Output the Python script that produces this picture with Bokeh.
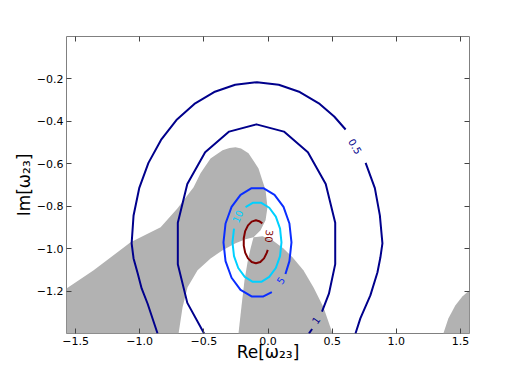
from bokeh.plotting import figure
from bokeh.models import Range1d, LinearAxis, FixedTicker
from bokeh.core.properties import value
from bokeh.embed import file_html
from bokeh.resources import INLINE

X_MIN, X_MAX = -1.5708, 1.5708
Y_MIN, Y_MAX = -1.398, -0.002

x_ticks = [-1.5, -1.0, -0.5, 0.0, 0.5, 1.0, 1.5]
y_ticks = [-1.2, -1.0, -0.8, -0.6, -0.4, -0.2]

# gray (shaded) regions, traced boundaries
region_a_x = [-1.5708, -1.5708, -0.697, -0.666, -0.627, -0.549, -0.448, -0.354, -0.253, -0.175, -0.113,
              -0.058, -0.019, -0.004, -0.019, -0.074, -0.152, -0.210, -0.253, -0.300, -0.354, -0.448,
              -0.526, -0.580, -0.705, -0.837, -1.071, -1.359]
region_a_y = [-1.186, -1.398, -1.398, -1.275, -1.181, -1.101, -1.045, -1.007, -0.974, -0.955, -0.946,
              -0.913, -0.866, -0.805, -0.725, -0.622, -0.551, -0.528, -0.523, -0.526, -0.537, -0.575,
              -0.645, -0.711, -0.809, -0.899, -0.969, -1.101]
region_b_x = [-0.230, -0.206, -0.183, -0.160, -0.136, -0.113, -0.043, 0.035, 0.121, 0.191, 0.276,
              0.354, 0.432, 0.487, 0.502]
region_b_y = [-1.398, -1.266, -1.148, -1.064, -0.998, -0.946, -0.941, -0.960, -0.998, -1.040, -1.101,
              -1.181, -1.275, -1.370, -1.398]
region_c_x = [1.367, 1.406, 1.460, 1.515, 1.5708, 1.5708]
region_c_y = [-1.398, -1.327, -1.266, -1.224, -1.195, -1.398]

# contour level 0.5 (two pieces, gap for label)
c05a_x = [-0.861, -0.939, -0.985, -1.016, -1.048, -1.063, -1.048, -1.004, -0.932, -0.834, -0.714,
          -0.574, -0.420, -0.256, -0.086, 0.084, 0.248, 0.403, 0.516, 0.605]
c05a_y = [-1.398, -1.257, -1.186, -1.115, -1.045, -0.974, -0.843, -0.715, -0.596, -0.488, -0.395,
          -0.319, -0.263, -0.229, -0.217, -0.229, -0.263, -0.319, -0.378, -0.439]
c05b_x = [0.761, 0.833, 0.872, 0.892, 0.876, 0.853, 0.798, 0.720, 0.682]
c05b_y = [-0.596, -0.715, -0.843, -0.974, -1.041, -1.111, -1.219, -1.327, -1.398]

# contour level 1
c1a_x = [-0.498, -0.629, -0.703, -0.703, -0.629, -0.490, -0.303, -0.090, 0.124, 0.311, 0.450,
         0.524, 0.524, 0.475, 0.421]
c1a_y = [-1.398, -1.254, -1.072, -0.877, -0.695, -0.546, -0.449, -0.415, -0.449, -0.546, -0.695,
         -0.877, -1.072, -1.211, -1.295]
c1b_x = [0.344, 0.319]
c1b_y = [-1.377, -1.398]

# contour level 5
c5_x = [0.136, 0.167, 0.183, 0.167, 0.121, 0.051, -0.036, -0.128, -0.214, -0.284, -0.331, -0.347,
        -0.331, -0.284, -0.214, -0.128, -0.036, 0.030]
c5_y = [-1.118, -1.058, -0.970, -0.881, -0.803, -0.746, -0.715, -0.715, -0.746, -0.803, -0.881,
        -0.970, -1.058, -1.136, -1.193, -1.224, -1.224, -1.204]

# contour level 10
c10_x = [-0.175, -0.119, -0.052, 0.010, 0.061, 0.094, 0.105, 0.094, 0.061, 0.010, -0.052, -0.119,
         -0.181, -0.232, -0.265, -0.277, -0.265]
c10_y = [-0.804, -0.784, -0.784, -0.807, -0.849, -0.905, -0.970, -1.034, -1.090, -1.132, -1.155,
         -1.155, -1.132, -1.090, -1.034, -0.970, -0.905]

# contour level 30
c30_x = [-0.044, -0.069, -0.094, -0.127, -0.156, -0.178, -0.189, -0.189, -0.178, -0.156, -0.127,
         -0.094, -0.060, -0.031, -0.009, -0.002]
c30_y = [-0.880, -0.870, -0.866, -0.872, -0.890, -0.917, -0.950, -0.985, -1.018, -1.045, -1.062,
         -1.068, -1.062, -1.045, -1.018, -1.005]

# contour labels
label_text = ["0.5", "1", "5", "10", "30"]
label_x = [0.681, 0.372, 0.097, -0.238, 0.012]
label_y = [-0.518, -1.335, -1.148, -0.847, -0.941]
label_angle = [-59, 55, 55, 65, -95]

NAVY = "#00008c"
BLUE = "#0a2dff"
CYAN = "#00d0ff"
DARKRED = "#800000"
label_color = [NAVY, NAVY, BLUE, CYAN, DARKRED]

p = figure(width=512, height=370, output_backend="svg", toolbar_location=None,
           x_range=Range1d(X_MIN, X_MAX), y_range=Range1d(Y_MIN, Y_MAX),
           min_border_left=66, min_border_right=43, min_border_top=36, min_border_bottom=37)
p.grid.visible = False
p.outline_line_color = "#808080"
p.outline_line_width = 1
p.background_fill_color = "white"
p.border_fill_color = "white"

p.patches(xs=[region_a_x, region_b_x, region_c_x], ys=[region_a_y, region_b_y, region_c_y],
          fill_color="#b2b2b2", line_color=None)

for xs, ys, col in [(c05a_x, c05a_y, NAVY), (c05b_x, c05b_y, NAVY),
                    (c1a_x, c1a_y, NAVY), (c1b_x, c1b_y, NAVY),
                    (c5_x, c5_y, BLUE), (c10_x, c10_y, CYAN), (c30_x, c30_y, DARKRED)]:
    p.line(xs, ys, line_color=col, line_width=2, line_join="round")

p.text(x=label_x, y=label_y, text=label_text, angle=label_angle, angle_units="deg",
       text_color=label_color, text_align="center", text_baseline="middle",
       text_font=value("DejaVu Sans"), text_font_size="10px")

def style_axis(ax):
    ax.axis_line_color = None
    ax.major_tick_in = 5
    ax.major_tick_out = 0
    ax.major_tick_line_color = "#444444"
    ax.minor_tick_line_color = None
    ax.major_label_text_font = "DejaVu Sans"
    ax.major_label_text_font_size = "11px"
    ax.major_label_text_color = "black"
    ax.axis_label_text_font = "DejaVu Sans"
    ax.axis_label_text_font_size = "17px"
    ax.axis_label_text_font_style = "normal"
    ax.axis_label_text_color = "black"

xa = p.xaxis[0]
xa.ticker = FixedTicker(ticks=x_ticks)
xa.major_label_overrides = {t: f"{t:.1f}".replace("-", "\u2212") for t in x_ticks}
xa.axis_label = "Re[\u03c9\u2082\u2083]"
style_axis(xa)
xa.major_label_standoff = 3
xa.axis_label_standoff = -6

ya = p.yaxis[0]
ya.ticker = FixedTicker(ticks=y_ticks)
ya.major_label_overrides = {t: f"{t:.1f}".replace("-", "\u2212") for t in y_ticks}
ya.axis_label = "Im[\u03c9\u2082\u2083]"
style_axis(ya)
ya.major_label_standoff = 3
ya.axis_label_standoff = 0

top = LinearAxis(ticker=FixedTicker(ticks=x_ticks))
top.major_label_overrides = {t: "" for t in x_ticks}
style_axis(top)
top.major_label_standoff = 0
p.add_layout(top, "above")

right = LinearAxis(ticker=FixedTicker(ticks=y_ticks))
right.major_label_overrides = {t: "" for t in y_ticks}
style_axis(right)
right.major_label_standoff = 0
p.add_layout(right, "right")

open("out.html", "w").write(file_html(p, INLINE))
